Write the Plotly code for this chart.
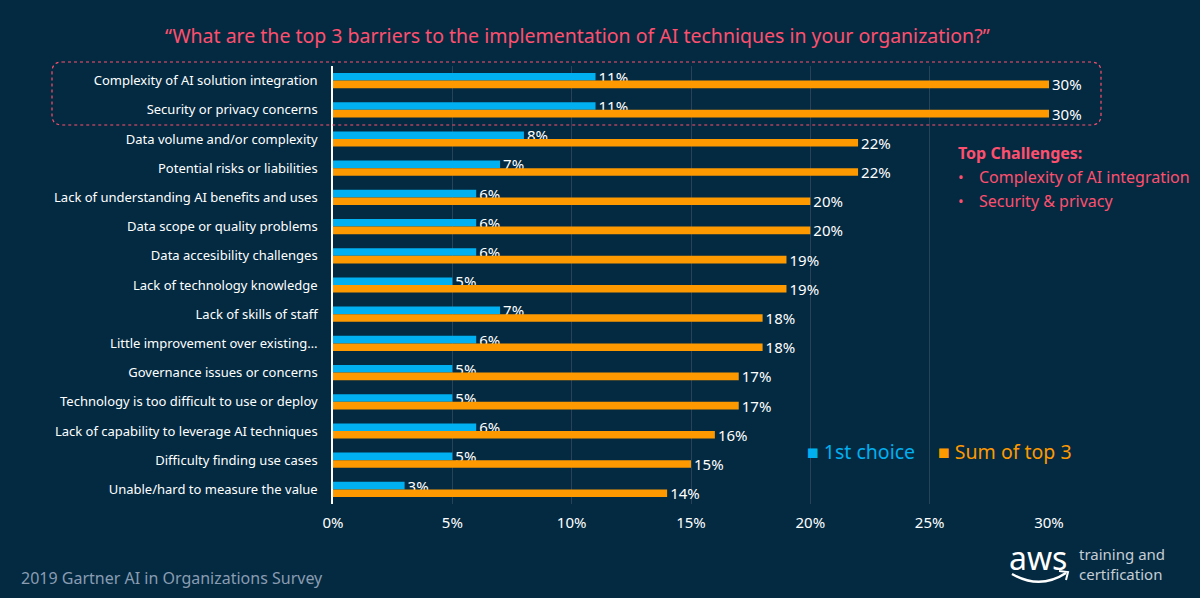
import plotly.graph_objects as go

categories = [
    "Complexity of AI solution integration",
    "Security or privacy concerns",
    "Data volume and/or complexity",
    "Potential risks or liabilities",
    "Lack of understanding AI benefits and uses",
    "Data scope or quality problems",
    "Data accesibility challenges",
    "Lack of technology knowledge",
    "Lack of skills of staff",
    "Little improvement over existing…",
    "Governance issues or concerns",
    "Technology is too difficult to use or deploy",
    "Lack of capability to leverage AI techniques",
    "Difficulty finding use cases",
    "Unable/hard to measure the value",
]
first_choice = [11, 11, 8, 7, 6, 6, 6, 5, 7, 6, 5, 5, 6, 5, 3]
sum_top3 = [30, 30, 22, 22, 20, 20, 19, 19, 18, 18, 17, 17, 16, 15, 14]
x_ticks = [0, 5, 10, 15, 20, 25, 30]
x_tick_labels = [f"{v}%" for v in x_ticks]

BG = "#032A41"
BLUE = "#00B0F0"
ORANGE = "#FF9900"
PINK = "#FF4F6E"
FONT = "Noto Sans"

W, H = 1200, 598
L, R, T, B = 333, 1049, 66, 504


def px(x):
    return (x - L) / (R - L)


def py(y):
    return (B - y) / (B - T)


fig = go.Figure()
fig.add_trace(go.Bar(
    y=categories, x=first_choice, orientation="h", name="1st choice",
    marker=dict(color=BLUE, line=dict(width=0)),
    text=[f"{v}%" for v in first_choice], textposition="outside",
    constraintext="none",
    textfont=dict(color="white", size=15, family=FONT), cliponaxis=False,
))
fig.add_trace(go.Bar(
    y=categories, x=sum_top3, orientation="h", name="Sum of top 3",
    marker=dict(color=ORANGE, line=dict(width=0)),
    text=[f"{v}%" for v in sum_top3], textposition="outside",
    constraintext="none",
    textfont=dict(color="white", size=15, family=FONT), cliponaxis=False,
))

fig.update_layout(
    width=W, height=H,
    paper_bgcolor=BG, plot_bgcolor=BG,
    margin=dict(l=L, r=W - R, t=T, b=H - B),
    barmode="group", bargap=0.48, bargroupgap=0,
    showlegend=False,
    font=dict(family=FONT, color="white"),
    xaxis=dict(
        range=[0, 30], tickvals=x_ticks, ticktext=x_tick_labels,
        showgrid=True, gridcolor="#2A4257", gridwidth=1,
        zeroline=False, showline=False,
        tickfont=dict(size=15, color="white"), ticks="", ticklabelstandoff=8,
    ),
    yaxis=dict(
        autorange="reversed", showgrid=False, zeroline=False,
        showline=True, linecolor="white", linewidth=1.5,
        tickfont=dict(size=13, color="white"), ticks="",
        ticklabelstandoff=11,
    ),
)


def ann(text, x, y, size, color, xanchor="left", **kw):
    return dict(text=text, x=px(x), y=py(y), xref="paper", yref="paper",
                xanchor=xanchor, yanchor="middle", showarrow=False,
                font=dict(size=size, color=color, family=FONT), **kw)


annotations = [
    ann("“What are the top 3 barriers to the implementation of AI techniques in your organization?”",
        577, 36, 19.5, PINK, xanchor="center"),
    ann("<b>Top Challenges:</b>", 956, 153, 16, PINK),
    ann("•", 956, 177, 15, PINK),
    ann("Complexity of AI integration", 977, 177, 16, PINK),
    ann("•", 956, 201, 15, PINK),
    ann("Security & privacy", 977, 201, 16, PINK),
    ann("■ 1st choice", 805, 451, 19.5, BLUE),
    ann("■ Sum of top 3", 936, 451, 19.5, ORANGE),
    ann("2019 Gartner AI in Organizations Survey", 19, 578, 16, "#8A9CB2"),
    ann("aws", 1007, 557, 32, "white"),
    ann("training and<br>certification", 1077, 564, 15, "#C5CDD6", align="left"),
]
fig.update_layout(annotations=annotations)

# dotted rounded highlight box around top two categories
x0, x1, y0, y1, r = px(52), px(1101), py(62), py(125), 10
rx = r / (R - L)
ry = r / (B - T)
path = (f"M {x0+rx},{y0} L {x1-rx},{y0} Q {x1},{y0} {x1},{y0-ry} "
        f"L {x1},{y1+ry} Q {x1},{y1} {x1-rx},{y1} "
        f"L {x0+rx},{y1} Q {x0},{y1} {x0},{y1+ry} "
        f"L {x0},{y0-ry} Q {x0},{y0} {x0+rx},{y0} Z")
shapes = [
    dict(type="path", path=path, xref="paper", yref="paper",
         line=dict(color=PINK, width=1.2, dash="dot"), layer="above"),
    # aws smile
    dict(type="path", xref="paper", yref="paper",
         path=f"M {px(1012)},{py(574)} Q {px(1040)},{py(590)} {px(1066)},{py(573)}",
         line=dict(color="white", width=2.5)),
    dict(type="path", xref="paper", yref="paper",
         path=f"M {px(1059)},{py(571)} L {px(1068)},{py(572)} L {px(1066)},{py(580)}",
         line=dict(color="white", width=2)),
]
fig.update_layout(shapes=shapes)

fig.write_html("out.html")
